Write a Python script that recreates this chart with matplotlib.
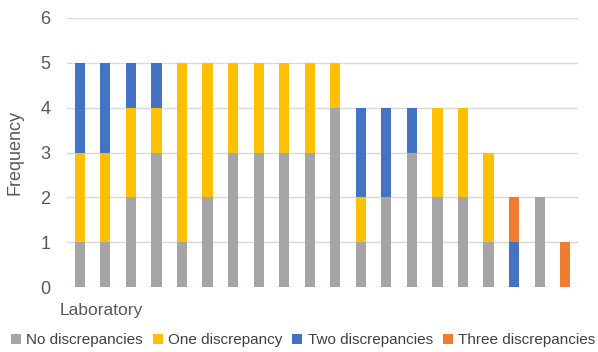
import matplotlib
matplotlib.use("Agg")
import matplotlib.pyplot as plt
import numpy as np

plt.rcParams['font.family'] = ['Liberation Sans', 'DejaVu Sans']

labs = [f"Lab {i}" for i in range(1, 21)]
no_disc    = [1, 1, 2, 3, 1, 2, 3, 3, 3, 3, 4, 1, 2, 3, 2, 2, 1, 0, 2, 0]
one_disc   = [2, 2, 2, 1, 4, 3, 2, 2, 2, 2, 1, 1, 0, 0, 2, 2, 2, 0, 0, 0]
two_disc   = [2, 2, 1, 1, 0, 0, 0, 0, 0, 0, 0, 2, 2, 1, 0, 0, 0, 1, 0, 0]
three_disc = [0, 0, 0, 0, 0, 0, 0, 0, 0, 0, 0, 0, 0, 0, 0, 0, 0, 1, 0, 1]

series = [
    ("No discrepancies", no_disc, "#A5A5A5"),
    ("One discrepancy", one_disc, "#FFC000"),
    ("Two discrepancies", two_disc, "#4472C4"),
    ("Three discrepancies", three_disc, "#ED7D31"),
]

text_col = "#595959"

fig = plt.figure(figsize=(5.98, 3.52), dpi=100)
ax = fig.add_axes([67 / 598, 1 - 287 / 352, (578 - 67) / 598, (287 - 18) / 352])

x = np.arange(len(labs))
bottom = np.zeros(len(labs))
for name, vals, col in series:
    v = np.array(vals, dtype=float)
    ax.bar(x, v, width=0.4, bottom=bottom, color=col, label=name, zorder=3)
    bottom += v

ax.set_xlim(-0.5, len(labs) - 0.5)
ax.set_ylim(0, 6)
ax.set_yticks(range(0, 7))
ax.yaxis.grid(True, color="#D9D9D9", linewidth=1, zorder=0)
ax.set_xticks([])
for s in ax.spines.values():
    s.set_visible(False)
ax.tick_params(axis="y", length=0, pad=12, labelsize=13, labelcolor=text_col)

ax.set_ylabel("Frequency", fontsize=13, color=text_col, labelpad=12)
fig.text(60 / 598, 1 - 310 / 352, "Laboratory", fontsize=12.5, color=text_col,
         ha="left", va="center")

handles, labels = ax.get_legend_handles_labels()
fig.legend(handles, labels, loc="center", bbox_to_anchor=(303 / 598, 1 - 340 / 352),
           ncol=4, frameon=False, fontsize=11, labelcolor="#404040",
           handlelength=0.65, handleheight=0.65, handletextpad=0.35,
           columnspacing=0.65, borderaxespad=0, borderpad=0)

fig.savefig("out.png", dpi=100)
